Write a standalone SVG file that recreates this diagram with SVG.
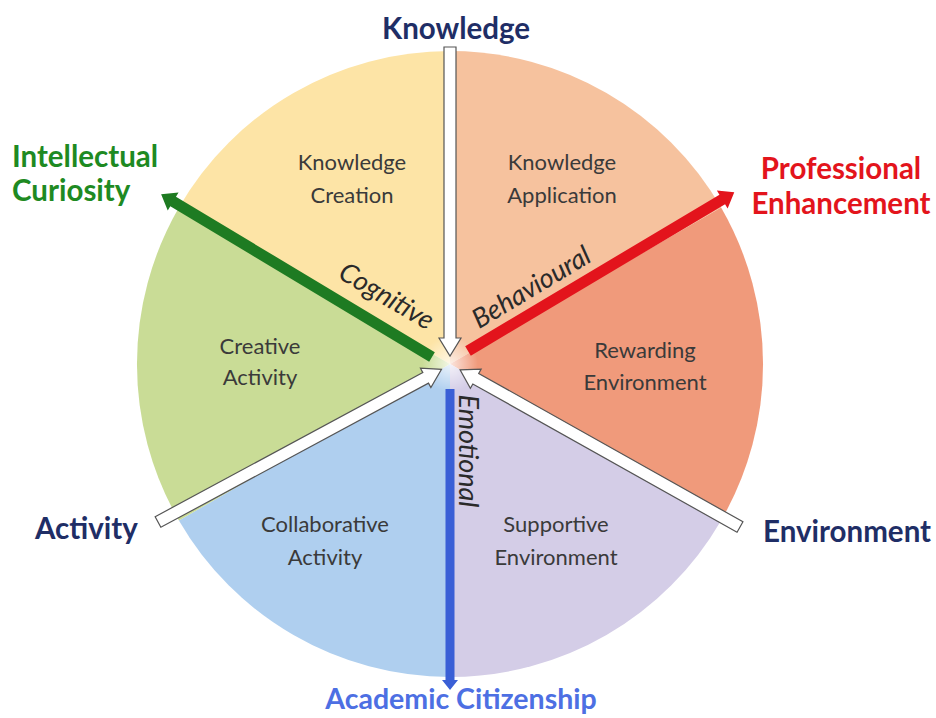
<svg xmlns="http://www.w3.org/2000/svg" width="936" height="718" viewBox="0 0 936 718">
<defs>
<style>
.title{font-family:Lato,"Open Sans","Liberation Sans",sans-serif;font-weight:bold;font-size:29.5px}
.sec{font-family:Lato,"Open Sans","Liberation Sans",sans-serif;font-size:22px;fill:#3a3a3a;text-anchor:middle}
.ax{font-family:Lato,"Open Sans","Liberation Sans",sans-serif;font-style:italic;font-size:27px;fill:#2a2a2a;text-anchor:middle}
.wa{fill:#ffffff;stroke:#555555;stroke-width:1.2;stroke-linejoin:miter}
</style>
<radialGradient id="glow" cx="0.5" cy="0.5" r="0.5">
<stop offset="0" stop-color="#ffffff" stop-opacity="0.75"/>
<stop offset="1" stop-color="#ffffff" stop-opacity="0"/>
</radialGradient>
</defs>
<rect width="936" height="718" fill="#ffffff"/>

<g id="knowledge-creation">
<path d="M450,364 L178.9,207.5 A313,313 0 0 1 450,51 Z" fill="#FDE4A6"/>
<text class="sec" x="352" y="170">Knowledge</text>
<text class="sec" x="352" y="203">Creation</text>
</g>
<g id="knowledge-application">
<path d="M450,364 L450,51 A313,313 0 0 1 721.1,207.5 Z" fill="#F6C29E"/>
<text class="sec" x="562" y="170">Knowledge</text>
<text class="sec" x="562" y="203">Application</text>
</g>
<g id="rewarding-environment">
<path d="M450,364 L721.1,207.5 A313,313 0 0 1 721.1,520.5 Z" fill="#F09A7B"/>
<text class="sec" x="645" y="358">Rewarding</text>
<text class="sec" x="645" y="390">Environment</text>
</g>
<g id="supportive-environment">
<path d="M450,364 L721.1,520.5 A313,313 0 0 1 450,677 Z" fill="#D4CDE7"/>
<text class="sec" x="556" y="532">Supportive</text>
<text class="sec" x="556" y="565">Environment</text>
</g>
<g id="collaborative-activity">
<path d="M450,364 L450,677 A313,313 0 0 1 178.9,520.5 Z" fill="#AFCFEF"/>
<text class="sec" x="325" y="532">Collaborative</text>
<text class="sec" x="325" y="565">Activity</text>
</g>
<g id="creative-activity">
<path d="M450,364 L178.9,520.5 A313,313 0 0 1 178.9,207.5 Z" fill="#C9DC96"/>
<text class="sec" x="260" y="354">Creative</text>
<text class="sec" x="260" y="385">Activity</text>
</g>
<circle cx="450" cy="364" r="28" fill="url(#glow)"/>

<g id="connectors">
<polygon class="wa" transform="translate(450,47) rotate(90)" points="0,-6 291,-6 291,-11 309,0 291,11 291,6 0,6"/>
<polygon class="wa" transform="translate(158,522) rotate(-28.3)" points="0,-6 304,-6 304,-11 322,0 304,11 304,6 0,6"/>
<polygon class="wa" transform="translate(740,527) rotate(209.3)" points="0,-6 303,-6 303,-11 321,0 303,11 303,6 0,6"/>
<polygon fill="#1E7B22" transform="translate(432,357) rotate(211)" points="0,-5.5 302,-5.5 302,-10.5 316,0 302,10.5 302,5.5 0,5.5"/>
<polygon fill="#E3141C" transform="translate(468,351) rotate(-30.8)" points="0,-5.5 296,-5.5 296,-10.5 310,0 296,10.5 296,5.5 0,5.5"/>
<polygon fill="#3A5FD6" transform="translate(450,389) rotate(90)" points="0,-4.5 291,-4.5 291,-8 301,0 291,8 291,4.5 0,4.5"/>
<text class="ax" transform="translate(382,304) rotate(30.5)">Cognitive</text>
<text class="ax" transform="translate(536,295) rotate(-31)">Behavioural</text>
<text class="ax" transform="translate(459,451) rotate(90)">Emotional</text>
</g>

<g id="label-knowledge"><text class="title" x="456" y="39" text-anchor="middle" fill="#1F2E66">Knowledge</text></g>
<g id="label-intellectual-curiosity">
<text class="title" x="12" y="167" fill="#1E8A22">Intellectual</text>
<text class="title" x="12" y="201" fill="#1E8A22">Curiosity</text>
</g>
<g id="label-professional-enhancement">
<text class="title" x="841" y="179" text-anchor="middle" fill="#E3141C">Professional</text>
<text class="title" x="841" y="214" text-anchor="middle" fill="#E3141C">Enhancement</text>
</g>
<g id="label-activity"><text class="title" x="35" y="539" fill="#1F2E66">Activity</text></g>
<g id="label-environment"><text class="title" x="763" y="542" fill="#1F2E66">Environment</text></g>
<g id="label-academic-citizenship"><text class="title" x="461" y="709" text-anchor="middle" fill="#4D6FE3" style="font-size:28.5px">Academic Citizenship</text></g>
</svg>
